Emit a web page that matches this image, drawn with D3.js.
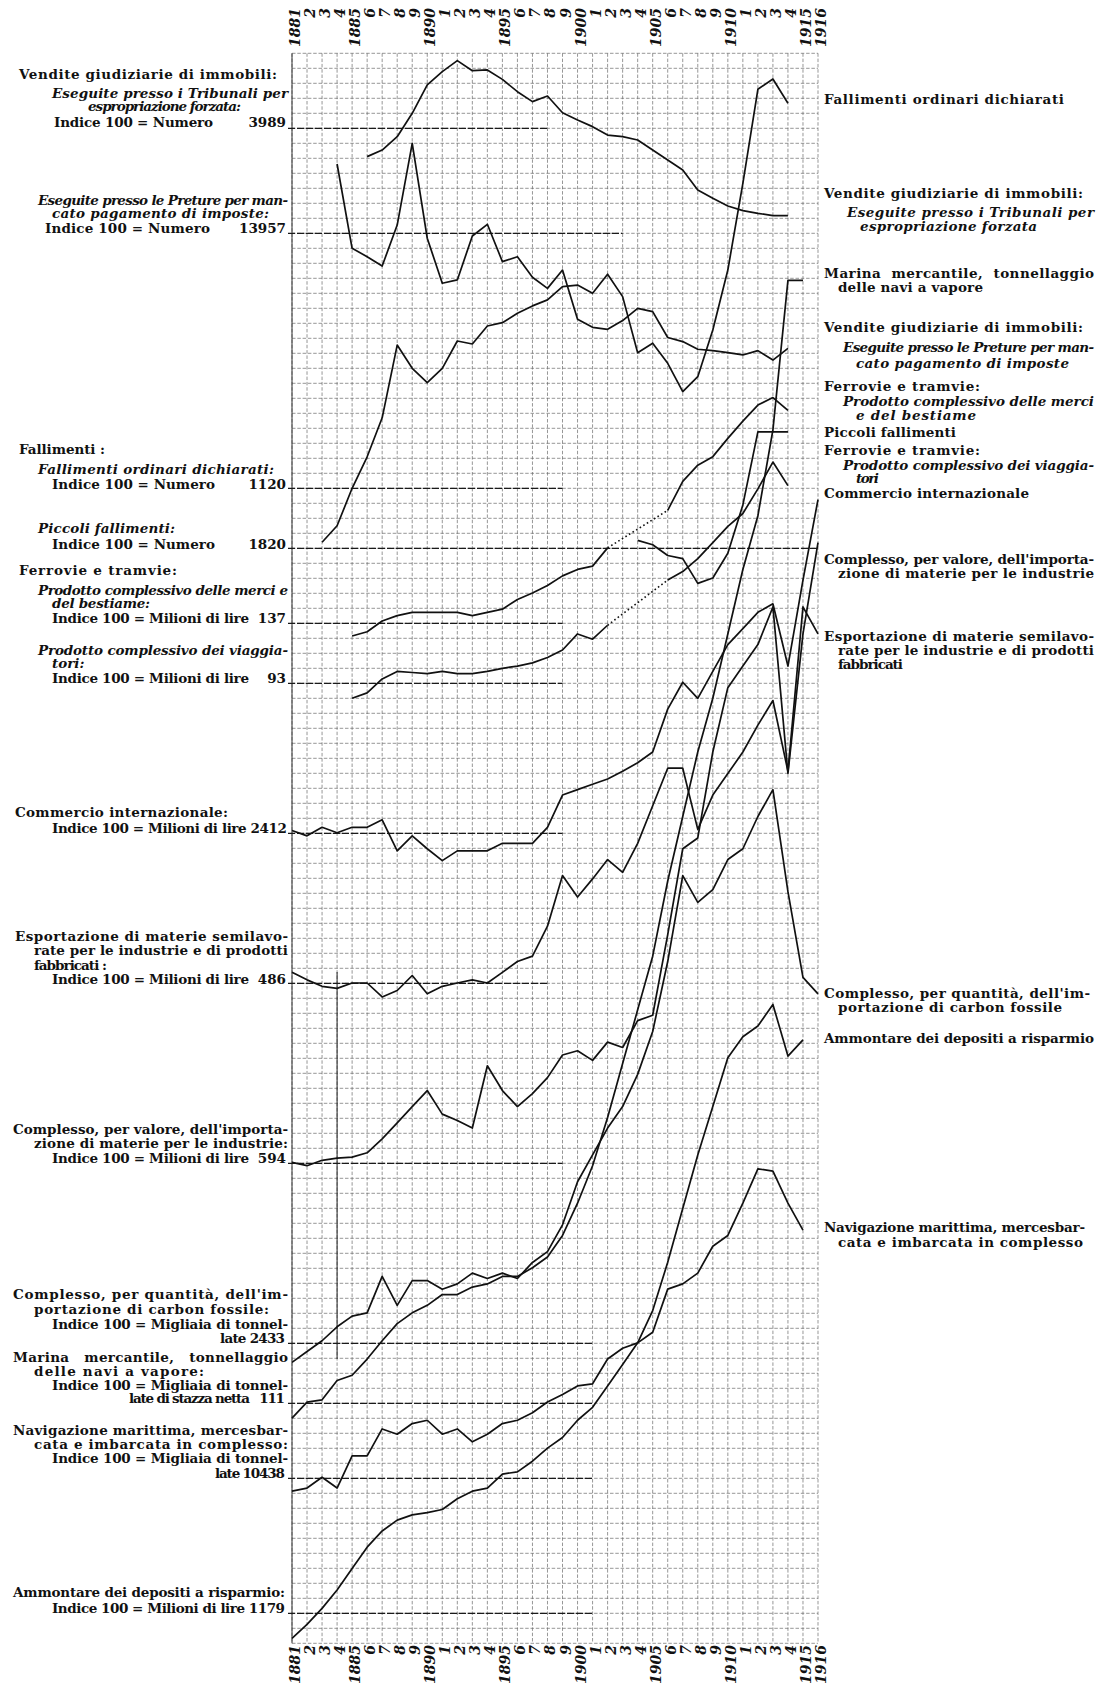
<!DOCTYPE html>
<html><head><meta charset="utf-8">
<script src="https://cdn.jsdelivr.net/npm/d3@7"></script>
<style>body{margin:0;background:#fff}svg{display:block}</style>
</head><body>
<svg id="c" width="1098" height="1685"></svg>
<script>
// ---------------- DATA (index values, 100 = base quantity) ----------------
const yearLabels = ["1881","2","3","4","1885","6","7","8","9","1890","1","2","3","4","1895","6","7","8","9","1900","1","2","3","4","1905","6","7","8","9","1910","1","2","3","4","1915","1916"];

const tribunaliStart = 1886;
const tribunaliValues = [81.1,85.5,94.4,110,128.9,137.8,145.1,138.4,138.9,132.6,124.4,117.8,121.5,110.4,105.5,101.1,95.5,94.4,92.2,85.5,78.9,72.2,58.9,53.3,48.2,45.1,43.3,41.8,41.8];

const pretureStart = 1884;
const pretureValues = [146.2,90,84.4,78.2,105.5,160,96.7,66.7,68.9,98.2,106,81.1,84.4,70.7,63.3,75.5,42.7,37.3,36,41.8,50,47.8,30.5,27.8,22.7,21.8,20.4,18.9,21.8,15.5,23.3];

const fallimentiStart = 1883;
const fallimentiValues = [64,75,100,121,147,195.5,180,170.4,180,198.2,196.2,208.2,210.4,216.7,221.6,225.6,234.4,235.5,230,242.7,227.8,190.4,196.7,183.3,164.4,174.4,205.5,245.5,303.3,366,372.9,356.7];

const piccoliStart = 1904;
const piccoliValues = [105.3,102.4,95.2,93.1,76.6,80.2,96.7,128.9,177.6,177.6,177.6];

const merciStart = 1885;
const merciValues = [91.5,94.4,101.5,105.1,107.3,107.3,107.3,107.3,105.1,107.3,109.4,115.9,120.2,125.2,131.6,135.9,138.1,150.3,null,null,null,175.3,194.6,205.4,211.1,223.3,234.8,245.5,250.5,241.9];

const viaggiatoriStart = 1885;
const viaggiatoriValues = [90,93.6,102.9,107.9,107.2,106.4,107.9,106.4,106.4,107.9,110,111.5,113.6,117.2,122.2,132.9,129.4,138.7,null,null,null,168.8,174.5,183.1,193.8,204.6,213.2,229.6,247.5,231.8];

const commercioStart = 1881;
const commercioValues = [101.9,98.3,104,100.4,104,104,109,88.3,98.3,89.7,81.8,88.3,88.3,88.3,93.3,93.3,93.3,104,125.5,129.1,132.7,136.2,141.3,147,154.2,182.8,200.7,190,207.9,225.8,236.5,247.3,253,211.5,268.8,322.5];

const esportazioneStart = 1881;
const esportazioneValues = [107.3,102.3,98,96.6,100.2,100.2,90.9,95.2,105.2,93,98,100.2,102.3,100.2,107.3,114.5,118.1,138.1,171.8,157.5,169.6,182.5,173.9,193.3,218.4,243.4,243.4,202.6,225.5,239.8,254.2,272.1,288.5,241.3,350.9,332.9];

const valoreStart = 1881;
const valoreValues = [100.6,98.4,102,103.4,104.1,107,116.3,127,137.8,148.5,132.8,128.5,123.5,165,148.5,137.8,146.4,157.1,172.2,175,168.6,180.8,177.2,195.1,198.7,252.4,309.7,316.9,374.2,417.1,431.5,445.8,470.9,359.9,452.9,513.8];

const carbonStart = 1881;
const carbonValues = [87.3,94.5,101.7,111,118.1,120.3,144.6,125.3,141.8,141.8,136,139.6,146.8,143.2,146.8,143.2,153.9,161.1,179,207.7,225.6,243.5,257.8,279.3,307.9,354.5,411.8,393.9,402.5,422.5,429.7,451.2,469.1,401.1,343.9,333];

const marinaStart = 1881;
const marinaValues = [90.1,100.8,102.3,115.2,118.7,129.5,141.7,153.1,160.3,165.3,172.5,172.5,177.5,179.6,184.6,184.6,190.4,197.5,211.9,233.4,258.4,290.6,326.5,362.3,398.1,448.2,491.2,534.2,570,612.9,655.9,691.7,749,848.6,848.6];

const navigazioneStart = 1881;
const navigazioneValues = [91.4,93.5,100.7,93.5,115,115,132.9,129.4,136.5,138.7,129.4,132.9,124.3,129.4,136.5,138.7,143.7,150.9,155.9,161.6,163,179.5,186.7,190.3,197.4,226.1,229.6,236.8,254.7,261.9,283.4,306.3,304.8,283.4,265.5];

const ammontareStart = 1881;
const ammontareValues = [83.3,92.6,103.3,115.5,129.8,144.1,154.9,162.1,165.6,167.1,169.2,176.4,181.4,183.5,192.8,194.3,201.4,210.1,217.2,228.7,237.3,251.6,265.9,280.3,301.8,334,369.8,405.6,437.8,470.3,484.4,491.5,505.9,471.5,482.3];

// ---------------- LAYOUT (grid row of each "Indice 100" line and the year where that line stops) ----------------
const seriesLayout = [
  {start: tribunaliStart,    values: tribunaliValues,    baseRow: 5,   baseEnd: 1898},
  {start: pretureStart,      values: pretureValues,      baseRow: 12,  baseEnd: 1903},
  {start: fallimentiStart,   values: fallimentiValues,   baseRow: 29,  baseEnd: 1899},
  {start: piccoliStart,      values: piccoliValues,      baseRow: 33,  baseEnd: 1916},
  {start: merciStart,        values: merciValues,        baseRow: 38,  baseEnd: 1899},
  {start: viaggiatoriStart,  values: viaggiatoriValues,  baseRow: 42,  baseEnd: 1899},
  {start: commercioStart,    values: commercioValues,    baseRow: 52,  baseEnd: 1899},
  {start: esportazioneStart, values: esportazioneValues, baseRow: 62,  baseEnd: 1898},
  {start: valoreStart,       values: valoreValues,       baseRow: 74,  baseEnd: 1899},
  {start: carbonStart,       values: carbonValues,       baseRow: 86,  baseEnd: 1901},
  {start: marinaStart,       values: marinaValues,       baseRow: 90,  baseEnd: 1901},
  {start: navigazioneStart,  values: navigazioneValues,  baseRow: 95,  baseEnd: 1901},
  {start: ammontareStart,    values: ammontareValues,    baseRow: 104, baseEnd: 1901}
];

// left labels: [text, x0, x1, baselineY, style]  (b = bold, bi = bold italic, n = number, right-aligned at x1)
const leftLabels = [
  ["Vendite giudiziarie di immobili:",19,277,79,"b"],
  ["Eseguite presso i Tribunali per",52,288,98,"bi"],
  ["espropriazione forzata:",88,241,111,"bi"],
  ["Indice 100 = Numero",54,213,127,"b"],["3989",247,286,127,"n"],
  ["Eseguite presso le Preture per man-",38,288,205,"bi"],
  ["cato pagamento di imposte:",52,269,218,"bi"],
  ["Indice 100 = Numero",45,210,233,"b"],["13957",236,286,233,"n"],
  ["Fallimenti :",19,105,454,"b"],
  ["Fallimenti ordinari dichiarati:",38,274,474,"bi"],
  ["Indice 100 = Numero",52,215,489,"b"],["1120",242,286,489,"n"],
  ["Piccoli fallimenti:",38,175,533,"bi"],
  ["Indice 100 = Numero",52,215,549,"b"],["1820",242,286,549,"n"],
  ["Ferrovie e tramvie:",19,177,575,"b"],
  ["Prodotto complessivo delle merci e",38,288,595,"bi"],
  ["del bestiame:",52,150,608,"bi"],
  ["Indice 100 = Milioni di lire",52,249,623,"b"],["137",261,286,623,"n"],
  ["Prodotto complessivo dei viaggia-",38,288,655,"bi"],
  ["tori:",52,73,668,"bi"],
  ["Indice 100 = Milioni di lire",52,249,683,"b"],["93",272,286,683,"n"],
  ["Commercio internazionale:",15,228,817,"b"],
  ["Indice 100 = Milioni di lire 2412",52,287,833,"b"],
  ["Esportazione di materie semilavo-",15,288,941,"b"],
  ["rate per le industrie e di prodotti",34,288,955,"b"],
  ["fabbricati :",34,107,970,"b"],
  ["Indice 100 = Milioni di lire",52,249,984,"b"],["486",263,286,984,"n"],
  ["Complesso, per valore, dell'importa-",13,288,1134,"b"],
  ["zione di materie per le industrie:",34,288,1148,"b"],
  ["Indice 100 = Milioni di lire",52,249,1163,"b"],["594",261,286,1163,"n"],
  ["Complesso, per quantità, dell'im-",13,288,1299,"b"],
  ["portazione di carbon fossile:",34,269,1314,"b"],
  ["Indice 100 = Migliaia di tonnel-",52,288,1329,"b"],
  ["late 2433",220,285,1343,"b"],
  ["Marina   mercantile,   tonnellaggio",13,288,1362,"b"],
  ["delle navi a vapore:",34,204,1376,"b"],
  ["Indice 100 = Migliaia di tonnel-",52,288,1390,"b"],
  ["late di stazza netta   111",129,285,1403,"b"],
  ["Navigazione marittima, mercesbar-",13,288,1435,"b"],
  ["cata e imbarcata in complesso:",34,288,1449,"b"],
  ["Indice 100 = Migliaia di tonnel-",52,288,1463,"b"],
  ["late 10438",215,285,1478,"b"],
  ["Ammontare dei depositi a risparmio:",13,285,1597,"b"],
  ["Indice 100 = Milioni di lire 1179",52,285,1613,"b"]
];

const rightLabels = [
  ["Fallimenti ordinari dichiarati",824,1064,104,"b"],
  ["Vendite giudiziarie di immobili:",824,1083,198,"b"],
  ["Eseguite presso i Tribunali per",847,1094,217,"bi"],
  ["espropriazione forzata",860,1037,231,"bi"],
  ["Marina  mercantile,  tonnellaggio",824,1094,278,"b"],
  ["delle navi a vapore",838,983,292,"b"],
  ["Vendite giudiziarie di immobili:",824,1083,332,"b"],
  ["Eseguite presso le Preture per man-",843,1094,352,"bi"],
  ["cato pagamento di imposte",856,1069,368,"bi"],
  ["Ferrovie e tramvie:",824,980,391,"b"],
  ["Prodotto complessivo delle merci",843,1094,406,"bi"],
  ["e del bestiame",856,976,420,"bi"],
  ["Piccoli fallimenti",824,956,437,"b"],
  ["Ferrovie e tramvie:",824,980,455,"b"],
  ["Prodotto complessivo dei viaggia-",843,1094,470,"bi"],
  ["tori",856,879,483,"bi"],
  ["Commercio internazionale",824,1029,498,"b"],
  ["Complesso, per valore, dell'importa-",824,1094,564,"b"],
  ["zione di materie per le industrie",838,1094,578,"b"],
  ["Esportazione di materie semilavo-",824,1094,641,"b"],
  ["rate per le industrie e di prodotti",838,1094,655,"b"],
  ["fabbricati",838,903,669,"b"],
  ["Complesso, per quantità, dell'im-",824,1090,998,"b"],
  ["portazione di carbon fossile",838,1062,1012,"b"],
  ["Ammontare dei depositi a risparmio",824,1094,1043,"b"],
  ["Navigazione marittima, mercesbar-",824,1085,1232,"b"],
  ["cata e imbarcata in complesso",838,1083,1247,"b"]
];

// ---------------- DRAW ----------------
const svg = d3.select("#c");
const FONT = "'DejaVu Serif', 'Liberation Serif', serif";
const firstYear = 1881, lastYear = 1916, nRows = 106;
const x = d3.scaleLinear().domain([firstYear, lastYear]).range([292, 818]);
const rowY = d3.scaleLinear().domain([0, nRows]).range([53.3, 1643.3]);

// grid
const grid = svg.append("g");
grid.selectAll("line.h").data(d3.range(0, nRows + 1)).join("line")
  .attr("x1", x(firstYear)).attr("x2", x(lastYear))
  .attr("y1", d => rowY(d)).attr("y2", d => rowY(d))
  .attr("stroke", "#6a6a6a").attr("stroke-width", 0.7).attr("stroke-dasharray", "3.5 1.8");
grid.selectAll("line.v").data(d3.range(firstYear, lastYear + 1)).join("line")
  .attr("y1", rowY(0)).attr("y2", rowY(nRows))
  .attr("x1", d => x(d)).attr("x2", d => x(d))
  .attr("stroke", "#6a6a6a").attr("stroke-width", 0.7).attr("stroke-dasharray", "3.5 1.8");
grid.append("line").attr("x1", x(firstYear)).attr("x2", x(firstYear))
  .attr("y1", rowY(0)).attr("y2", rowY(nRows)).attr("stroke", "#333").attr("stroke-width", 1);
grid.append("line").attr("x1", x(1884)).attr("x2", x(1884))
  .attr("y1", 972).attr("y2", 1359).attr("stroke", "#222").attr("stroke-width", 1);

// year axes (top & bottom)
function yearAxis(yTop) {
  const g = svg.append("g");
  g.selectAll("text").data(yearLabels).join("text")
    .attr("transform", (d, i) => `translate(${x(firstYear + i) + 8},${yTop}) rotate(-90)`)
    .attr("text-anchor", "end")
    .attr("font-family", FONT).attr("font-weight", "bold").attr("font-style", "italic")
    .attr("font-size", 14).attr("fill", "#111")
    .text(d => d);
}
yearAxis(8);
yearAxis(1645);

// series
seriesLayout.forEach(s => {
  const y0 = rowY(s.baseRow), y1 = rowY(s.baseRow - 1);
  const ys = d3.scaleLinear().domain([100, 110]).range([y0, y1]);
  const pts = s.values.map((v, i) => ({year: s.start + i, v}));
  svg.append("line").attr("x1", 288).attr("x2", x(s.baseEnd))
    .attr("y1", y0).attr("y2", y0)
    .attr("stroke", "#1a1a1a").attr("stroke-width", 1.3).attr("stroke-dasharray", "7 2");
  const line = d3.line().defined(d => d.v != null).x(d => x(d.year)).y(d => ys(d.v));
  svg.append("path").attr("d", line(pts)).attr("fill", "none")
    .attr("stroke", "#111").attr("stroke-width", 1.7).attr("stroke-linejoin", "round");
  for (let i = 1; i < pts.length; i++) {
    if (pts[i].v == null && pts[i - 1].v != null) {
      let j = i; while (j < pts.length && pts[j].v == null) j++;
      if (j < pts.length) {
        svg.append("line").attr("x1", x(pts[i - 1].year)).attr("y1", ys(pts[i - 1].v))
          .attr("x2", x(pts[j].year)).attr("y2", ys(pts[j].v))
          .attr("stroke", "#111").attr("stroke-width", 1.6).attr("stroke-dasharray", "1.6 2.6");
      }
    }
  }
});

// labels
function drawLabels(list) {
  const g = svg.append("g").attr("font-family", FONT).attr("fill", "#111");
  list.forEach(([t, x0, x1, y, st]) => {
    if (st === "n") {
      g.append("text").attr("x", x1).attr("y", y).attr("text-anchor", "end")
        .attr("font-size", 13.5).attr("font-weight", "bold").text(t);
      return;
    }
    const el = g.append("text").attr("x", x0).attr("y", y)
      .attr("font-size", 13.5).attr("font-weight", "bold")
      .attr("font-style", st === "bi" ? "italic" : "normal")
      .style("white-space", "pre").text(t);
    const nat = el.node().getComputedTextLength();
    const target = x1 - x0;
    if (nat > 0) {
      const r = target / nat;
      if (r > 0.8 && r < 1.25) el.attr("textLength", target).attr("lengthAdjust", "spacing");
    }
  });
}
drawLabels(leftLabels);
drawLabels(rightLabels);
</script>
</body></html>
